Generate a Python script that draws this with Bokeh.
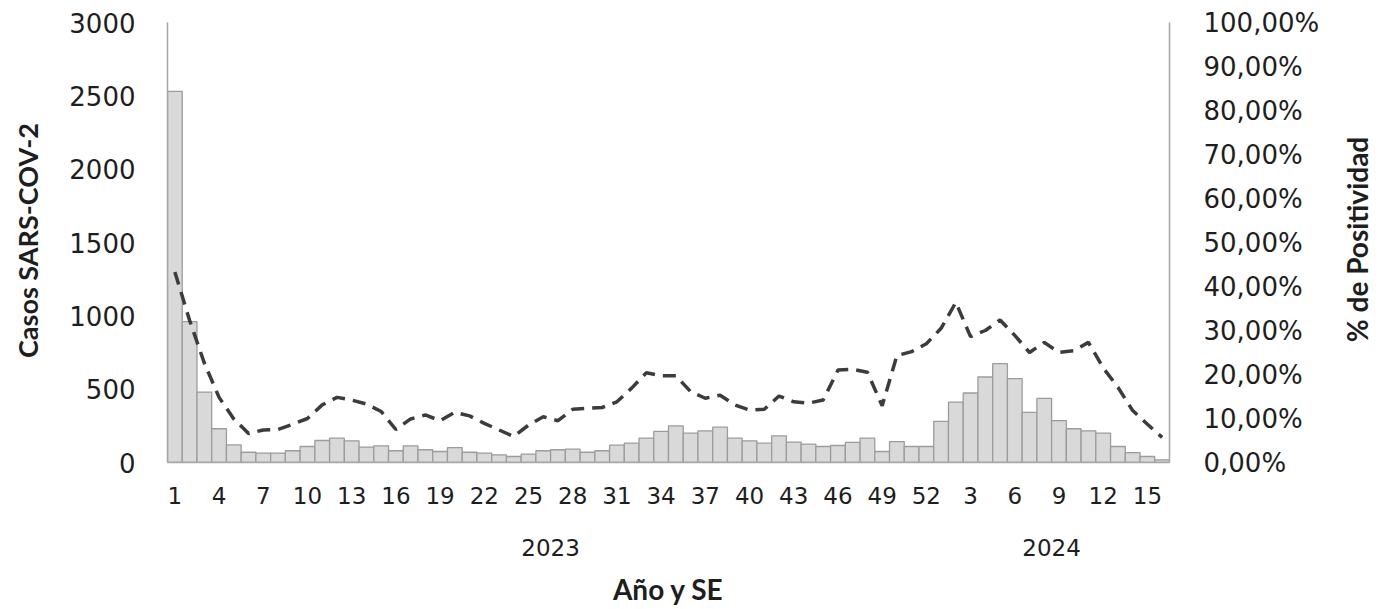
import math
from bokeh.plotting import figure
from bokeh.layouts import row
from bokeh.models import ColumnDataSource, Range1d, LinearAxis, FixedTicker
from bokeh.core.properties import value
from bokeh.embed import file_html
from bokeh.resources import INLINE

# ---------------- data ----------------
years = ["2023"] * 52 + ["2024"] * 16
weeks = list(range(1, 53)) + list(range(1, 17))

cases_2023 = [2530, 960, 480, 230, 120, 70, 64, 64, 80, 109,
              150, 166, 148, 105, 114, 80, 114, 87, 75, 102,
              70, 64, 52, 41, 57, 80, 87, 91, 70, 80,
              118, 132, 166, 212, 250, 200, 216, 241, 166, 148,
              132, 182, 139, 125, 109, 116, 137, 166, 75, 143,
              109, 109]
cases_2024 = [280, 412, 474, 583, 674, 572, 342, 437, 285, 230,
              216, 200, 109, 68, 41, 18]

pct_2023 = [43.3, 32.3, 22.6, 14.8, 9.9, 6.6, 7.4, 7.5, 8.7, 10.0,
            13.1, 14.8, 14.2, 13.3, 11.6, 7.5, 9.9, 10.8, 9.5, 11.4,
            10.6, 8.9, 7.4, 5.9, 8.5, 10.4, 9.5, 12.1, 12.3, 12.5,
            13.8, 16.9, 20.4, 19.7, 19.7, 16.1, 14.6, 15.3, 13.1, 11.9,
            12.1, 15.1, 13.8, 13.5, 14.2, 21.0, 21.2, 20.5, 12.9, 24.3,
            25.2, 27.0]
pct_2024 = [30.5, 36.4, 28.6, 30.0, 32.4, 28.9, 25.0, 27.3, 25.0, 25.4,
            27.3, 21.5, 17.1, 11.8, 8.7, 5.7]

cases = cases_2023 + cases_2024
positivity = pct_2023 + pct_2024

left_ticks = [0, 500, 1000, 1500, 2000, 2500, 3000]
right_ticks = [0, 10, 20, 30, 40, 50, 60, 70, 80, 90, 100]
right_tick_labels = ["0,00%", "10,00%", "20,00%", "30,00%", "40,00%", "50,00%",
                     "60,00%", "70,00%", "80,00%", "90,00%", "100,00%"]

y_title_left = "Casos SARS-COV-2"
y_title_right = "% de Positividad"
x_title = "Año y SE"

# ---------------- layout constants (page pixels) ----------------
W, H = 1395, 609
FL, FR, FT, FB = 167, 1169, 22, 462   # frame edges of the main chart
LW = 60                               # left strip (left title)
PW = 1275                             # main chart figure width
RW = W - LW - PW                      # right strip (right title)
LT_X, LT_Y = 26.5, 240                # anchor of left title (page)
RT_X, RT_Y = 1356, 239                # anchor of right title (page)

idx = list(range(1, len(weeks) + 1))
src = ColumnDataSource(dict(x=idx, cases=cases, pct=positivity,
                            week=[str(w) for w in weeks], year=years))

week_tick_pos = idx[::3]
week_tick_lbl = {idx[i]: str(weeks[i]) for i in range(0, len(idx), 3)}

year_names = []
for y in years:
    if y not in year_names:
        year_names.append(y)
year_pos = {}
for yn in year_names:
    xs = [idx[i] for i in range(len(idx)) if years[i] == yn]
    year_pos[yn] = (xs[0] + xs[-1]) / 2.0

TXT = "#1e1e1e"
AX = "#a6a6a6"

p = figure(width=PW, height=H, output_backend="svg", toolbar_location=None,
           x_range=Range1d(0.5, len(idx) + 0.5),
           y_range=Range1d(left_ticks[0], left_ticks[-1]),
           min_border_left=FL - LW, min_border_right=LW + PW - FR,
           min_border_top=FT, min_border_bottom=H - FB,
           background_fill_color="white", border_fill_color="white")
p.outline_line_color = None
p.xgrid.visible = False
p.ygrid.visible = False
p.extra_y_ranges = {"pct": Range1d(right_ticks[0], right_ticks[-1])}

p.vbar(x="x", top="cases", width=1.0, fill_color="#d9d9d9",
       line_color="#9c9c9c", line_width=1.3, source=src)
p.line(x="x", y="pct", y_range_name="pct", line_color="#3c3c3c",
       line_width=3.5, line_dash="13 8", source=src)


def style_axis(ax, size):
    ax.major_tick_out = 0
    ax.major_tick_in = 0
    ax.minor_tick_out = 0
    ax.minor_tick_in = 0
    ax.major_label_text_font = "DejaVu Sans"
    ax.major_label_text_font_size = size
    ax.major_label_text_color = TXT
    ax.axis_label_text_font = "Lato"
    ax.axis_label_text_font_style = "bold"
    ax.axis_label_text_font_size = "27px"
    ax.axis_label_text_color = TXT
    ax.axis_line_color = AX
    ax.axis_line_width = 1.5


# left axis
ly = p.yaxis[0]
ly.ticker = FixedTicker(ticks=left_ticks)
style_axis(ly, "26px")
ly.major_label_standoff = 32

# right axis
ry = LinearAxis(y_range_name="pct", ticker=FixedTicker(ticks=right_ticks),
                major_label_overrides={t: l for t, l in zip(right_ticks, right_tick_labels)})
style_axis(ry, "26px")
ry.major_label_standoff = 34
p.add_layout(ry, "right")

# bottom week axis
bx = p.xaxis[0]
bx.ticker = FixedTicker(ticks=week_tick_pos)
bx.major_label_overrides = week_tick_lbl
style_axis(bx, "23px")
bx.major_label_standoff = 24

# year axis
yx = LinearAxis(ticker=FixedTicker(ticks=[year_pos[y] for y in year_names]),
                major_label_overrides={year_pos[y]: y for y in year_names},
                axis_label=x_title)
style_axis(yx, "23px")
yx.axis_line_color = None
yx.major_label_standoff = 32
yx.axis_label_standoff = 13
yx.axis_label_text_font_size = "28px"
p.add_layout(yx, "below")


def strip(width):
    # the strip's frame is aligned with the main chart frame (FT..FB),
    # so its y range is expressed in (flipped) page pixels over that band
    f = figure(width=width, height=H, output_backend="svg", toolbar_location=None,
               x_range=Range1d(0, width), y_range=Range1d(H - FB, H - FT),
               x_axis_location=None, y_axis_location=None,
               min_border=0, background_fill_color="white",
               border_fill_color="white")
    f.outline_line_color = None
    f.xgrid.visible = False
    f.ygrid.visible = False
    return f


# ---------------- left strip ----------------
L = strip(LW)
L.text(x=[LT_X], y=[H - LT_Y], text=[y_title_left],
       angle=math.pi / 2, text_align="center", text_baseline="middle",
       text_font=value("Lato"), text_font_style="bold", text_font_size="27px",
       text_color=TXT)

# ---------------- right strip ----------------
R = strip(RW)
R.text(x=[RT_X - LW - PW], y=[H - RT_Y], text=[y_title_right],
       angle=math.pi / 2, text_align="center", text_baseline="middle",
       text_font=value("Lato"), text_font_style="bold", text_font_size="28px",
       text_color=TXT)

layout = row(L, p, R, spacing=0)

open("out.html", "w").write(file_html(layout, INLINE))
